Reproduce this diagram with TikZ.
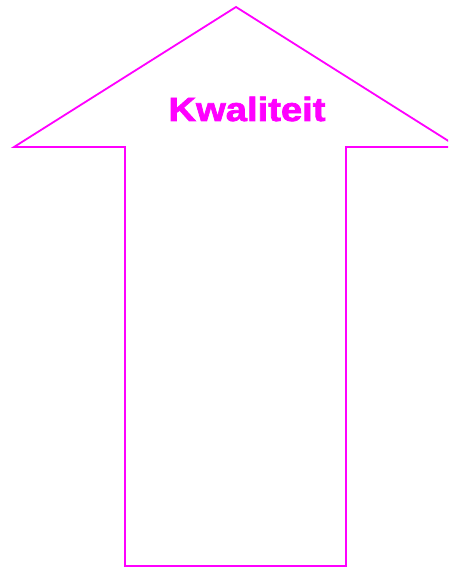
\documentclass[tikz,border=0pt]{standalone}
\usepackage{fontspec}
\newfontfamily\labelfont[FakeStretch=1.14,FakeBold=2.2]{Liberation Sans Bold}
\definecolor{arrowmag}{RGB}{255,0,255}
\begin{document}
\begin{tikzpicture}[x=1pt,y=-1pt,
  outline/.style={draw=arrowmag,line width=1.8pt,line join=miter},
  title/.style={text=arrowmag,font=\labelfont\fontsize{33.5}{33.5}\selectfont,inner sep=0pt,anchor=base}]
\useasboundingbox (0,0) rectangle (448,567);
\clip (0,0) rectangle (448,567);
\coordinate (tip) at (236,7);
\coordinate (lw) at (14,147);
\coordinate (rw) at (458,147);
\coordinate (ls) at (125,147);
\coordinate (rs) at (346,147);
\coordinate (lb) at (125,566);
\coordinate (rb) at (346,566);
\draw[outline] (tip) -- (rw) -- (rs) -- (rb) -- (lb) -- (ls) -- (lw) -- cycle;
\node[title] (label) at (247,121) {Kwaliteit};
\end{tikzpicture}
\end{document}
